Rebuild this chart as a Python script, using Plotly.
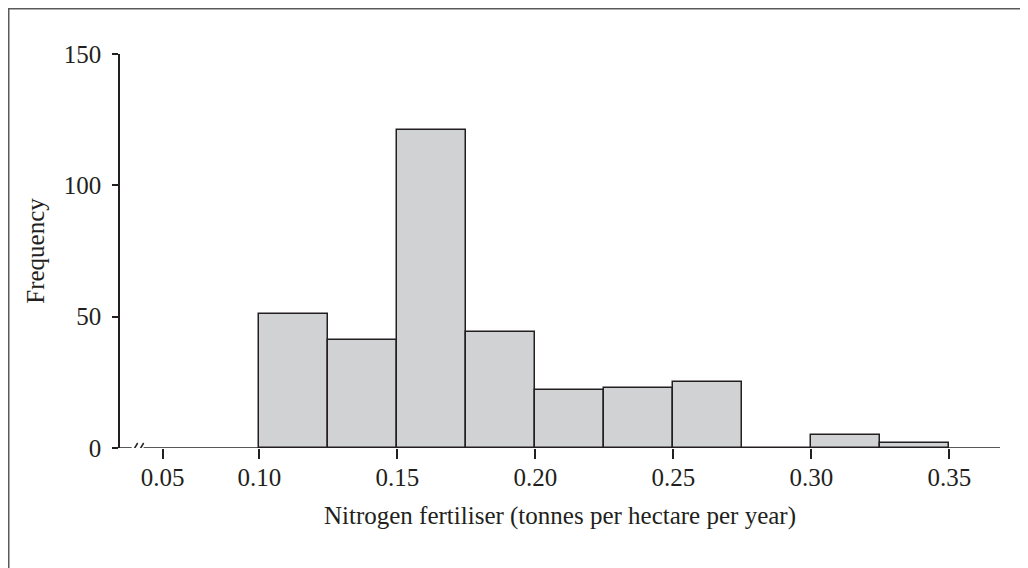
import plotly.graph_objects as go

# Data
bin_left = [0.100, 0.125, 0.150, 0.175, 0.200, 0.225, 0.250, 0.275, 0.300, 0.325]
bin_width = 0.025
frequency = [51, 41, 121, 44, 22, 23, 25, 0, 5, 2]
x_tick_labels = ["0.05", "0.10", "0.15", "0.20", "0.25", "0.30", "0.35"]
x_tick_values = [0.065, 0.10, 0.15, 0.20, 0.25, 0.30, 0.35]  # 0.05 drawn at a broken-axis position
y_tick_values = [0, 50, 100, 150]

W, H = 1028, 568
L, R, T, B = 112, 36, 46, 128
x_lo, x_hi = 0.04953, 0.36837
ink = "#231f20"
font = "Liberation Serif"
fs = 25

fig = go.Figure()
fig.add_trace(go.Bar(
    x=bin_left, y=frequency, width=[bin_width] * len(bin_left), offset=0,
    marker=dict(color="#d1d2d4", line=dict(color=ink, width=1.5)),
    showlegend=False, hoverinfo="skip",
))

shapes = []
# x axis line with break
shapes.append(dict(type="line", xref="x", yref="y", x0=x_lo, x1=0.05377, y0=0, y1=0,
                   line=dict(color=ink, width=1.5)))
shapes.append(dict(type="line", xref="x", yref="y", x0=0.05810, x1=x_hi, y0=0, y1=0,
                   line=dict(color=ink, width=1.5)))
# break slashes
for xs in (0.05377, 0.05594):
    shapes.append(dict(type="line", xref="x", yref="y", x0=xs, x1=xs + 0.00217, y0=-1.9, y1=1.9,
                       line=dict(color=ink, width=1.5)))
# outer frame (top and left)
px = lambda p: (p - L) / (W - L - R)
py = lambda p: (H - B - p) / (H - T - B)
shapes.append(dict(type="line", xref="paper", yref="paper", x0=px(0), x1=px(1028), y0=py(0.5), y1=py(0.5),
                   line=dict(color="#5a5a5a", width=2)))
shapes.append(dict(type="line", xref="paper", yref="paper", x0=px(0.5), x1=px(0.5), y0=py(0), y1=py(568),
                   line=dict(color="#5a5a5a", width=2)))

fig.update_layout(
    width=W, height=H,
    margin=dict(l=L, r=R, t=T, b=B),
    paper_bgcolor="white", plot_bgcolor="white",
    bargap=0,
    font=dict(family=font, size=fs, color=ink),
    shapes=shapes,
    xaxis=dict(
        range=[x_lo, x_hi], showline=False, showgrid=False, zeroline=False,
        tickmode="array", tickvals=x_tick_values, ticktext=x_tick_labels,
        ticks="outside", ticklen=10, tickwidth=1.5, tickcolor=ink, ticklabelstandoff=-3,
        tickfont=dict(family=font, size=fs, color=ink),
        title=dict(text="Nitrogen fertiliser (tonnes per hectare per year)",
                   font=dict(family=font, size=fs, color=ink), standoff=16),
    ),
    yaxis=dict(
        range=[0, 150], showline=True, linecolor=ink, linewidth=1.5,
        showgrid=False, zeroline=False,
        tickmode="array", tickvals=y_tick_values,
        ticks="outside", ticklen=6, tickwidth=1.5, tickcolor=ink, ticklabelstandoff=6,
        tickfont=dict(family=font, size=fs, color=ink),
        title=dict(text="Frequency", font=dict(family=font, size=fs, color=ink), standoff=12),
    ),
)

fig.write_html("out.html")
